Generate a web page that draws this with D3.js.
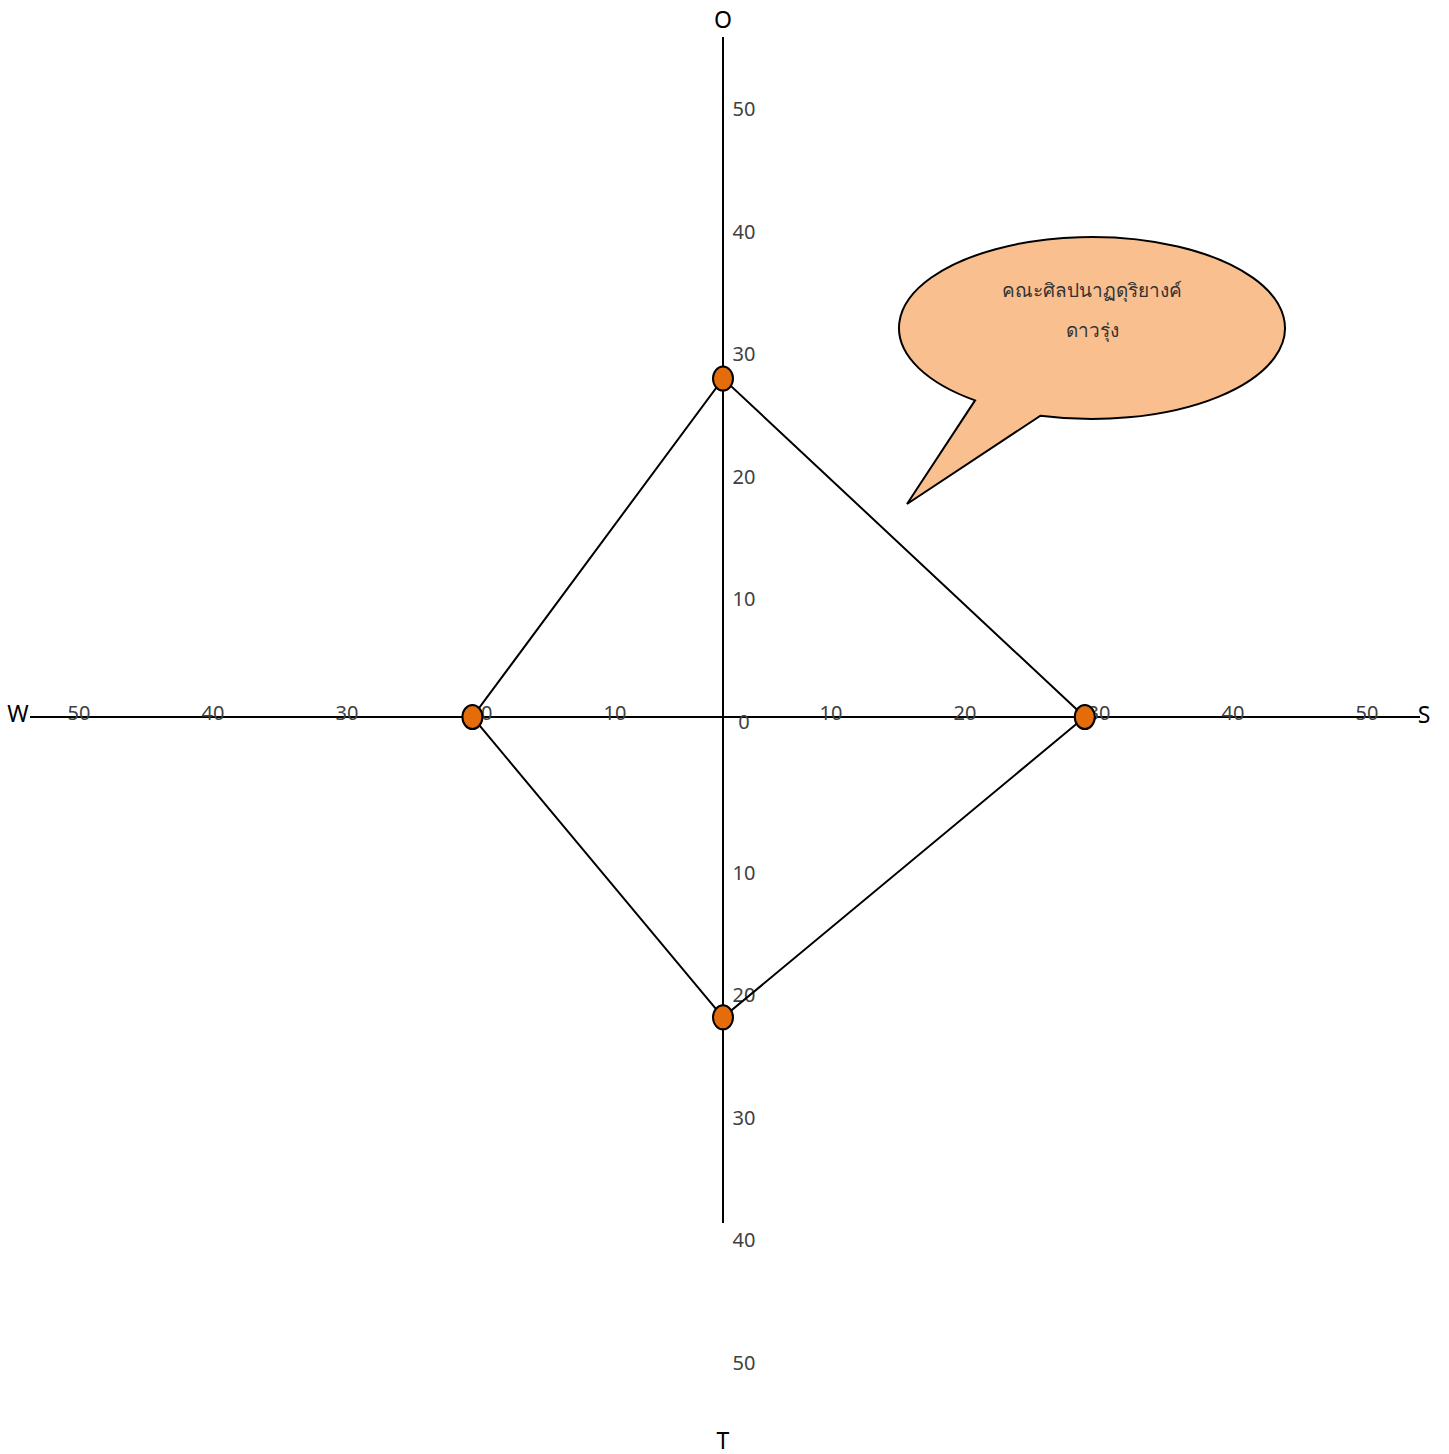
<!DOCTYPE html>
<html>
<head>
<meta charset="utf-8">
<script src="https://cdn.jsdelivr.net/npm/d3@7"></script>
<style>
  body { margin: 0; background: #fff; }
  text { font-family: "Noto Sans", "DejaVu Sans", sans-serif; }
</style>
</head>
<body>
<script>
"use strict";

// SWOT axes and the plotted scores
var axisNames = ["O", "S", "T", "W"];
var scores = [27.6, 27.0, 24.5, 18.7];
var tickValues = [10, 20, 30, 40, 50];
var calloutLines = ["คณะศิลปนาฏดุริยางค์", "ดาวรุ่ง"];

var width = 1449, height = 1454;
var cx = 723, cy = 717;

var svg = d3.select("body").append("svg")
    .attr("width", width)
    .attr("height", height);

// one scale per direction, 0 at the centre
var xRight = d3.scaleLinear().domain([0, 50]).range([cx, cx + 670]);
var xLeft = d3.scaleLinear().domain([0, 50]).range([cx, cx - 670]);
var yUp = d3.scaleLinear().domain([0, 50]).range([cy, cy - 613]);
var yDown = d3.scaleLinear().domain([0, 50]).range([cy, cy + 613]);

var labelColor = "#404040";

// axes
svg.append("line")
    .attr("x1", 30).attr("x2", 1420)
    .attr("y1", cy).attr("y2", cy)
    .attr("stroke", "#000").attr("stroke-width", 2);
svg.append("line")
    .attr("x1", cx).attr("x2", cx)
    .attr("y1", 37).attr("y2", 1223)
    .attr("stroke", "#000").attr("stroke-width", 2);

// tick labels
var tickFont = 20;
svg.append("g").selectAll("text")
    .data(tickValues).enter().append("text")
    .attr("x", d => xRight(d) - 26)
    .attr("y", cy - 4)
    .attr("dy", "0.35em")
    .attr("text-anchor", "middle")
    .attr("font-size", tickFont)
    .attr("fill", labelColor)
    .text(d => d);
svg.append("g").selectAll("text")
    .data(tickValues).enter().append("text")
    .attr("x", d => xLeft(d) + 26)
    .attr("y", cy - 4)
    .attr("dy", "0.35em")
    .attr("text-anchor", "middle")
    .attr("font-size", tickFont)
    .attr("fill", labelColor)
    .text(d => d);
svg.append("g").selectAll("text")
    .data([0].concat(tickValues)).enter().append("text")
    .attr("x", cx + 21)
    .attr("y", d => yUp(d) + 5)
    .attr("dy", "0.35em")
    .attr("text-anchor", "middle")
    .attr("font-size", tickFont)
    .attr("fill", labelColor)
    .text(d => d);
svg.append("g").selectAll("text")
    .data(tickValues).enter().append("text")
    .attr("x", cx + 21)
    .attr("y", d => yDown(d) + 33)
    .attr("dy", "0.35em")
    .attr("text-anchor", "middle")
    .attr("font-size", tickFont)
    .attr("fill", labelColor)
    .text(d => d);

// axis names
var nameFont = 23;
var namePos = {
    O: [cx, 20], S: [1424, cy - 2], T: [cx, 1441], W: [18, cy - 3]
};
svg.append("g").selectAll("text")
    .data(axisNames).enter().append("text")
    .attr("x", d => namePos[d][0])
    .attr("y", d => namePos[d][1])
    .attr("dy", "0.35em")
    .attr("text-anchor", "middle")
    .attr("font-size", nameFont)
    .attr("fill", "#000")
    .text(d => d);

// score positions
function scorePoint(name, v) {
    if (name === "O") return [cx, yUp(v)];
    if (name === "S") return [xRight(v), cy];
    if (name === "T") return [cx, yDown(v)];
    return [xLeft(v), cy];
}
var pts = axisNames.map((n, i) => scorePoint(n, scores[i]));

svg.append("path")
    .attr("d", d3.line()(pts) + "Z")
    .attr("fill", "none")
    .attr("stroke", "#000")
    .attr("stroke-width", 2);

svg.append("g").selectAll("ellipse")
    .data(pts).enter().append("ellipse")
    .attr("cx", d => d[0])
    .attr("cy", d => d[1])
    .attr("rx", 10)
    .attr("ry", 12)
    .attr("fill", "#e46c0a")
    .attr("stroke", "#000")
    .attr("stroke-width", 2);

// speech bubble callout: big arc of the ellipse plus the tail
var bx = 1092, by = 328, brx = 193, bry = 91;
function onEllipse(deg) {
    var t = deg * Math.PI / 180;
    return [bx + brx * Math.cos(t), by + bry * Math.sin(t)];
}
var tailA = onEllipse(127.3), tailB = onEllipse(105.5);
svg.append("path")
    .attr("d", "M" + tailA + " A" + brx + "," + bry + " 0 1,1 " + tailB + " L907,504 Z")
    .attr("fill", "#f9bf8f")
    .attr("stroke", "#000")
    .attr("stroke-width", 2)
    .attr("stroke-linejoin", "miter");

svg.append("g").selectAll("text")
    .data(calloutLines).enter().append("text")
    .attr("x", bx)
    .attr("y", (d, i) => 290 + i * 40)
    .attr("dy", "0.35em")
    .attr("text-anchor", "middle")
    .attr("font-size", 19)
    .attr("fill", "#333")
    .text(d => d);
</script>
</body>
</html>
